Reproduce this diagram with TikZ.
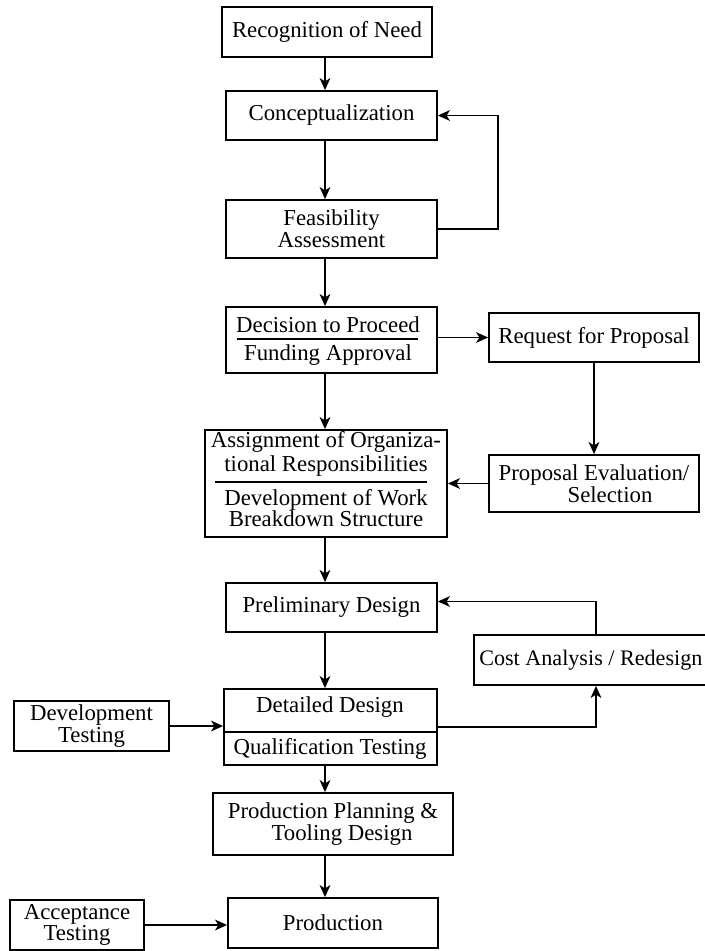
\documentclass[tikz,border=0pt]{standalone}
\usepackage{fontspec}
\setmainfont{Liberation Serif}
\usetikzlibrary{arrows.meta}
\begin{document}
\begin{tikzpicture}[x=0.75pt,y=-0.75pt,
  box/.style={draw, line width=1.35pt, inner sep=0pt, rectangle},
  txt/.style={font=\fontsize{17.1}{16.3}\selectfont, align=center, inner sep=0pt},
  arr/.style={line width=1.35pt, -{Stealth[length=9pt,width=8pt,inset=2.5pt]}},
  ln/.style={line width=1.35pt}]
\useasboundingbox (0,0) rectangle (705,951);
\clip (0,0) rectangle (705,951);
\fill[white] (0,0) rectangle (705,951);

% spine of the main flow and the x of the side loops
\coordinate (sp) at (325,0);
\coordinate (lp) at (596,0);
\coordinate (fb) at (498,0);

% main column
\node[box, txt, minimum width=157.5pt, minimum height=37.5pt] (rec) at (327,32) {Recognition of Need};
\node[box, txt, minimum width=158.25pt, minimum height=36.75pt] (con) at (331.5,115.5) {Conceptualization};
\node[box, txt, minimum width=158.25pt, minimum height=43.5pt] (fea) at (331.5,229) {Feasibility\\Assessment};

\node[box, minimum width=158.25pt, minimum height=49.5pt] (dec) at (331.5,340) {};
\node[txt] (decA) at (328,325) {Decision to Proceed};
\node[txt] (decB) at (328,355) {Funding Approval};
\draw[ln] (237,339) -- (418,339);

\node[box, minimum width=181.5pt, minimum height=80.25pt] (asg) at (326,483.5) {};
\node[txt, font=\fontsize{17.1}{18.5}\selectfont] (asgA) at (326,454) {Assignment of Organiza-\\tional Responsibilities};
\node[txt] (asgB) at (326,508) {Development of Work\\Breakdown Structure};
\draw[ln] (215,482) -- (427,482);

\node[box, txt, minimum width=158.25pt, minimum height=36.75pt] (pre) at (331.5,607.5) {Preliminary Design};

\node[box, minimum width=159.75pt, minimum height=57pt] (det) at (330.5,727) {};
\node[txt] (detA) at (330,707) {Detailed Design};
\node[txt] (detB) at (330,749) {Qualification Testing};
\draw[ln] (224,732) -- (437,732);

\node[box, txt, minimum width=180pt, minimum height=46.5pt] (ppl) at (333,824) {Production Planning \&\\\hspace*{13.5pt}Tooling Design};
\node[box, txt, minimum width=157.5pt, minimum height=37.5pt] (prod) at (333,923) {Production};

% side boxes
\node[box, txt, minimum width=157.5pt, minimum height=36.75pt] (req) at (594,337.5) {Request for Proposal};
\node[box, txt, minimum width=157.5pt, minimum height=42.75pt] (pev) at (594,483.5) {Proposal Evaluation/\\\hspace*{24pt}Selection};
\node[box, minimum width=187.5pt, minimum height=37.5pt] (cost) at (599,660) {};
\node[txt, font=\fontsize{16.6}{16}\selectfont, anchor=west] (costT) at (479,660) {Cost Analysis / Redesign};
\node[box, txt, minimum width=116.25pt, minimum height=37.5pt] (dev) at (91.5,726) {Development\\Testing};
\node[box, txt, minimum width=100.5pt, minimum height=37.5pt] (acc) at (77,925) {Acceptance\\Testing};

% main flow arrows
\draw[arr] (rec.south -| sp) -- (con.north -| sp);
\draw[arr] (con.south -| sp) -- (fea.north -| sp);
\draw[arr] (fea.south -| sp) -- (dec.north -| sp);
\draw[arr] (dec.south -| sp) -- (asg.north -| sp);
\draw[arr] (asg.south -| sp) -- (pre.north -| sp);
\draw[arr] (pre.south -| sp) -- (det.north -| sp);
\draw[arr] (det.south -| sp) -- (ppl.north -| sp);
\draw[arr] (ppl.south -| sp) -- (prod.north -| sp);

% feasibility feedback to conceptualization
\draw[arr] (fea.east) -- (fea.east -| fb) |- (con.east);

% procurement branch
\draw[arr] (req.west -| dec.east) -- (req.west);
\draw[arr] (req.south) -- (pev.north);
\draw[arr] (pev.west) -- (asg.east);

% cost analysis / redesign loop
\draw[arr] (det.east) -| (lp |- cost.south);
\draw[arr] (lp |- cost.north) |- ([yshift=4.5pt]pre.east);

% testing inputs
\draw[arr] (dev.east) -- (dev.east -| det.west);
\draw[arr] (acc.east) -- (acc.east -| prod.west);
\end{tikzpicture}
\end{document}
